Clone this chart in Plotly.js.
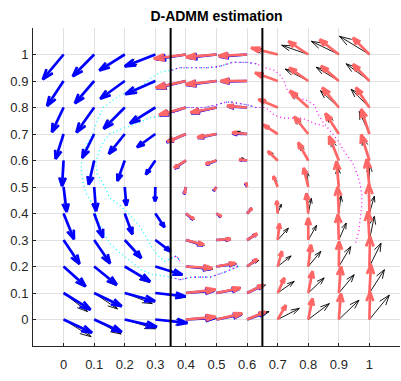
<!DOCTYPE html>
<html>
<head>
<meta charset="utf-8">
<script src="https://cdn.plot.ly/plotly-3.0.1.min.js"></script>
<style>
  html, body { margin: 0; padding: 0; background: #fff; }
  #chart { width: 401px; height: 381px; }
</style>
</head>
<body>
<div id="chart"></div>
<script>
// Sample grid (11 x 11 points on the unit square)
const gridX = [0, 0.1, 0.2, 0.3, 0.4, 0.5, 0.6, 0.7, 0.8, 0.9, 1];
const gridY = [0, 0.1, 0.2, 0.3, 0.4, 0.5, 0.6, 0.7, 0.8, 0.9, 1];

// Axis ticks
const tickVals = [0, 0.1, 0.2, 0.3, 0.4, 0.5, 0.6, 0.7, 0.8, 0.9, 1];
const tickText = ['0', '0.1', '0.2', '0.3', '0.4', '0.5', '0.6', '0.7', '0.8', '0.9', '1'];

// Partition boundaries between the three agents
const boundaries = [0.35, 0.65];

// True velocity field, one row per gridY value (bottom to top), one column per gridX value
const trueU = [
  [0.090, 0.088, 0.100, 0.100, 0.100, 0.085, 0.072, 0.071, 0.069, 0.066, 0.065],
  [0.078, 0.076, 0.090, 0.098, 0.097, 0.080, 0.060, 0.054, 0.052, 0.050, 0.049],
  [0.070, 0.072, 0.080, 0.088, 0.088, 0.065, 0.038, 0.044, 0.041, 0.039, 0.038],
  [0.050, 0.050, 0.052, 0.048, 0.060, 0.045, 0.030, 0.035, 0.027, 0.024, 0.016],
  [0.033, 0.028, 0.024, 0.028, 0.027, 0.015, 0.013, 0.012, 0.010, 0.007, 0.016],
  [0.008, 0.006, 0.006, 0.000, -0.004, -0.006, -0.002, -0.008, -0.005, -0.004, 0.000],
  [-0.006, -0.017, -0.025, -0.030, -0.038, -0.033, -0.018, -0.025, -0.028, -0.025, -0.022],
  [-0.027, -0.038, -0.051, -0.058, -0.062, -0.061, -0.033, -0.043, -0.044, -0.038, -0.033],
  [-0.040, -0.057, -0.068, -0.080, -0.085, -0.083, -0.066, -0.060, -0.058, -0.060, -0.060],
  [-0.055, -0.062, -0.079, -0.095, -0.097, -0.100, -0.086, -0.072, -0.075, -0.074, -0.076],
  [-0.067, -0.069, -0.082, -0.095, -0.100, -0.098, -0.095, -0.080, -0.087, -0.090, -0.098]
];
const trueV = [
  [-0.065, -0.055, -0.035, -0.015, 0.005, 0.020, 0.030, 0.042, 0.060, 0.073, 0.092],
  [-0.070, -0.060, -0.040, -0.016, 0.010, 0.020, 0.030, 0.044, 0.057, 0.069, 0.088],
  [-0.077, -0.072, -0.060, -0.033, -0.010, 0.010, 0.023, 0.040, 0.057, 0.075, 0.088],
  [-0.092, -0.090, -0.070, -0.045, -0.020, 0.000, 0.024, 0.045, 0.055, 0.064, 0.089],
  [-0.096, -0.090, -0.078, -0.052, -0.022, -0.010, 0.022, 0.035, 0.057, 0.067, 0.065],
  [-0.094, -0.090, -0.070, -0.053, -0.024, -0.012, 0.018, 0.030, 0.060, 0.075, 0.085],
  [-0.096, -0.090, -0.076, -0.053, -0.027, -0.014, 0.010, 0.033, 0.060, 0.079, 0.086],
  [-0.093, -0.090, -0.074, -0.050, -0.028, -0.012, 0.010, 0.032, 0.060, 0.070, 0.085],
  [-0.092, -0.092, -0.079, -0.058, -0.030, -0.018, 0.004, 0.030, 0.055, 0.063, 0.069],
  [-0.093, -0.083, -0.066, -0.048, -0.027, -0.012, 0.000, 0.030, 0.045, 0.052, 0.065],
  [-0.093, -0.081, -0.059, -0.040, -0.015, -0.008, -0.004, 0.020, 0.035, 0.050, 0.069]
];

// Agent 1 estimate (x = 0 ... 0.6)
const leftCols = [0, 1, 2, 3, 4, 5, 6];
const leftU = [
  [0.093, 0.090, 0.105, 0.105, 0.095, 0.081, 0.058],
  [0.088, 0.090, 0.099, 0.099, 0.094, 0.075, 0.052],
  [0.072, 0.074, 0.083, 0.088, 0.083, 0.060, 0.031],
  [0.052, 0.052, 0.054, 0.050, 0.056, 0.044, 0.031],
  [0.034, 0.029, 0.025, 0.030, 0.024, 0.014, 0.014],
  [0.010, 0.006, 0.005, -0.001, -0.006, -0.010, -0.006],
  [-0.005, -0.018, -0.024, -0.031, -0.037, -0.034, -0.024],
  [-0.026, -0.039, -0.052, -0.060, -0.063, -0.061, -0.047],
  [-0.038, -0.058, -0.069, -0.083, -0.086, -0.083, -0.063],
  [-0.054, -0.063, -0.080, -0.098, -0.097, -0.099, -0.085],
  [-0.068, -0.070, -0.083, -0.100, -0.098, -0.094, -0.090]
];
const leftV = [
  [-0.050, -0.047, -0.028, -0.013, 0.006, 0.019, 0.025],
  [-0.063, -0.050, -0.031, -0.013, 0.009, 0.016, 0.028],
  [-0.075, -0.069, -0.057, -0.031, -0.009, 0.010, 0.026],
  [-0.090, -0.088, -0.068, -0.043, -0.020, 0.002, 0.022],
  [-0.097, -0.091, -0.078, -0.052, -0.023, -0.013, 0.018],
  [-0.094, -0.091, -0.070, -0.054, -0.027, -0.015, 0.013],
  [-0.097, -0.091, -0.077, -0.053, -0.030, -0.015, 0.002],
  [-0.094, -0.090, -0.075, -0.050, -0.031, -0.015, 0.001],
  [-0.093, -0.094, -0.080, -0.060, -0.030, -0.021, 0.004],
  [-0.094, -0.084, -0.067, -0.050, -0.027, -0.015, -0.002],
  [-0.094, -0.082, -0.060, -0.045, -0.018, -0.012, -0.008]
];

// Agent 3 estimate (x = 0.4 ... 1)
const rightCols = [4, 5, 6, 7, 8, 9, 10];
const rightU = [
  [0.097, 0.084, 0.060, 0.027, 0.014, 0.007, 0.002],
  [0.097, 0.078, 0.054, 0.022, 0.014, 0.007, 0.005],
  [0.086, 0.062, 0.033, 0.014, 0.009, 0.001, 0.002],
  [0.059, 0.046, 0.033, 0.006, 0.000, -0.003, -0.005],
  [0.026, 0.016, 0.016, -0.003, -0.006, -0.004, -0.002],
  [-0.005, -0.008, -0.004, -0.014, -0.015, -0.008, -0.009],
  [-0.039, -0.036, -0.026, -0.032, -0.033, -0.032, -0.027],
  [-0.061, -0.063, -0.049, -0.047, -0.046, -0.044, -0.027],
  [-0.088, -0.085, -0.065, -0.063, -0.060, -0.054, -0.044],
  [-0.099, -0.101, -0.087, -0.074, -0.062, -0.058, -0.054],
  [-0.105, -0.100, -0.093, -0.087, -0.065, -0.063, -0.054]
];
const rightV = [
  [0.010, 0.023, 0.029, 0.054, 0.079, 0.098, 0.104],
  [0.013, 0.019, 0.031, 0.057, 0.082, 0.100, 0.107],
  [-0.006, 0.013, 0.028, 0.057, 0.082, 0.094, 0.113],
  [-0.018, 0.004, 0.024, 0.062, 0.083, 0.096, 0.108],
  [-0.021, -0.011, 0.020, 0.048, 0.076, 0.100, 0.110],
  [-0.025, -0.013, 0.016, 0.041, 0.072, 0.097, 0.105],
  [-0.028, -0.013, 0.004, 0.035, 0.068, 0.092, 0.098],
  [-0.029, -0.013, 0.005, 0.035, 0.066, 0.078, 0.094],
  [-0.028, -0.019, 0.006, 0.031, 0.063, 0.075, 0.075],
  [-0.025, -0.013, 0.000, 0.031, 0.050, 0.057, 0.063],
  [-0.016, -0.010, -0.005, 0.025, 0.050, 0.057, 0.063]
];

// Observed trajectories (sampled positions)
const outerX = [0.955, 0.965, 0.97, 0.975, 0.975, 0.97, 0.96, 0.945, 0.92, 0.90, 0.88, 0.86, 0.845, 0.83, 0.82, 0.79, 0.76, 0.74, 0.73, 0.72, 0.71, 0.69, 0.66, 0.63, 0.60, 0.55, 0.51, 0.47, 0.42, 0.38, 0.35, 0.32, 0.29, 0.26, 0.21, 0.17, 0.13, 0.11, 0.095, 0.075, 0.062, 0.057, 0.065, 0.076, 0.098, 0.11, 0.13, 0.15, 0.185, 0.22, 0.25, 0.29, 0.35, 0.38, 0.42, 0.48, 0.53, 0.57, 0.56];
const outerY = [0.29, 0.33, 0.38, 0.43, 0.47, 0.51, 0.55, 0.59, 0.63, 0.67, 0.70, 0.73, 0.75, 0.78, 0.81, 0.83, 0.835, 0.85, 0.87, 0.90, 0.92, 0.94, 0.95, 0.965, 0.97, 0.97, 0.955, 0.95, 0.95, 0.95, 0.94, 0.935, 0.915, 0.885, 0.86, 0.835, 0.80, 0.75, 0.70, 0.66, 0.62, 0.57, 0.51, 0.47, 0.43, 0.38, 0.33, 0.29, 0.25, 0.22, 0.19, 0.17, 0.16, 0.15, 0.16, 0.16, 0.18, 0.20, 0.21];
const innerX = [0.85, 0.82, 0.78, 0.75, 0.72, 0.69, 0.66, 0.63, 0.60, 0.55, 0.53, 0.50, 0.46, 0.40, 0.36, 0.32, 0.28, 0.24, 0.19, 0.15, 0.13, 0.115, 0.105, 0.11, 0.125, 0.14, 0.15, 0.185, 0.22, 0.25, 0.27, 0.29, 0.31, 0.33, 0.35, 0.37, 0.38];
const innerY = [0.73, 0.74, 0.76, 0.76, 0.76, 0.77, 0.80, 0.80, 0.81, 0.82, 0.82, 0.81, 0.80, 0.80, 0.78, 0.77, 0.76, 0.74, 0.72, 0.70, 0.67, 0.63, 0.59, 0.55, 0.52, 0.49, 0.46, 0.43, 0.39, 0.35, 0.31, 0.27, 0.24, 0.22, 0.23, 0.24, 0.22];

// Build quiver polylines the way MATLAB's quiver does (shaft + two head barbs)
function quiverXY(cols, U, V) {
  const alpha = 0.33, beta = 0.33;
  const xs = [], ys = [];
  for (let r = 0; r < gridY.length; r++) {
    for (let k = 0; k < cols.length; k++) {
      const x = gridX[cols[k]], y = gridY[r];
      const u = U[r][k], v = V[r][k];
      const tx = x + u, ty = y + v;
      xs.push(x, tx, null);
      ys.push(y, ty, null);
      xs.push(tx - alpha * (u + beta * v), tx, tx - alpha * (u - beta * v), null);
      ys.push(ty - alpha * (v - beta * u), ty, ty - alpha * (v + beta * u), null);
    }
  }
  return { x: xs, y: ys };
}

function quiverTrace(cols, U, V, color, width) {
  const p = quiverXY(cols, U, V);
  return {
    type: 'scatter', mode: 'lines', x: p.x, y: p.y,
    line: { color: color, width: width },
    hoverinfo: 'skip', connectgaps: false
  };
}

// Keep only the part of a trajectory inside [lo, hi] along x
function clip(xs, ys, lo, hi) {
  const ox = [], oy = [];
  for (let i = 0; i < xs.length; i++) {
    if (xs[i] >= lo && xs[i] <= hi) { ox.push(xs[i]); oy.push(ys[i]); }
    else { ox.push(null); oy.push(null); }
  }
  return { x: ox, y: oy };
}

function dotted(xs, ys, lo, hi, color, dash) {
  const c = clip(xs, ys, lo, hi);
  return {
    type: 'scatter', mode: 'lines', x: c.x, y: c.y,
    line: { color: color, width: 1.2, dash: dash },
    hoverinfo: 'skip', connectgaps: false
  };
}

const allCols = gridX.map((_, i) => i);
const traces = [];
[[outerX, outerY], [innerX, innerY]].forEach(([tx, ty]) => {
  traces.push(dotted(tx, ty, -1, boundaries[1], '#00ffff', '1px,3px'));
  traces.push(dotted(tx, ty, boundaries[0], boundaries[1], '#2222ff', '1px,4px'));
  traces.push(dotted(tx, ty, boundaries[0], 2, '#ff00ff', '1px,3px'));
});
traces.push(quiverTrace(allCols, trueU, trueV, '#000000', 0.9));
traces.push(quiverTrace(leftCols, leftU, leftV, '#0000ff', 2.7));
traces.push(quiverTrace(rightCols, rightU, rightV, '#ff6666', 2.7));

const axisFont = { family: 'Liberation Sans, Arial, Helvetica, sans-serif', size: 13, color: '#262626' };
const axisBase = {
  range: [-0.1, 1.1], tickmode: 'array', tickvals: tickVals, ticktext: tickText,
  ticks: 'inside', ticklen: 3, tickwidth: 1, tickcolor: '#262626',
  showline: true, linecolor: '#262626', linewidth: 1, mirror: false,
  showgrid: true, gridcolor: '#e1e1e1', gridwidth: 1, zeroline: false,
  tickfont: axisFont, fixedrange: true
};

const layout = {
  width: 401, height: 381,
  margin: { l: 33, r: 1, t: 28, b: 35 },
  paper_bgcolor: '#ffffff', plot_bgcolor: '#ffffff',
  showlegend: false,
  title: {
    text: '<b>D-ADMM estimation</b>',
    font: { family: 'Liberation Sans, Arial, Helvetica, sans-serif', size: 14, color: '#000000' },
    x: 0.5, xref: 'paper', xanchor: 'center',
    y: 1 - 16 / 381, yref: 'container', yanchor: 'middle'
  },
  xaxis: Object.assign({}, axisBase, { ticklabelstandoff: 6 }),
  yaxis: Object.assign({}, axisBase, { ticklabelstandoff: 1 }),
  shapes: boundaries.map(b => ({
    type: 'line', xref: 'x', yref: 'paper', x0: b, x1: b, y0: 0, y1: 1,
    line: { color: '#000000', width: 2 }, layer: 'above'
  }))
};

Plotly.newPlot('chart', traces, layout, { displayModeBar: false, staticPlot: true });
</script>
</body>
</html>
